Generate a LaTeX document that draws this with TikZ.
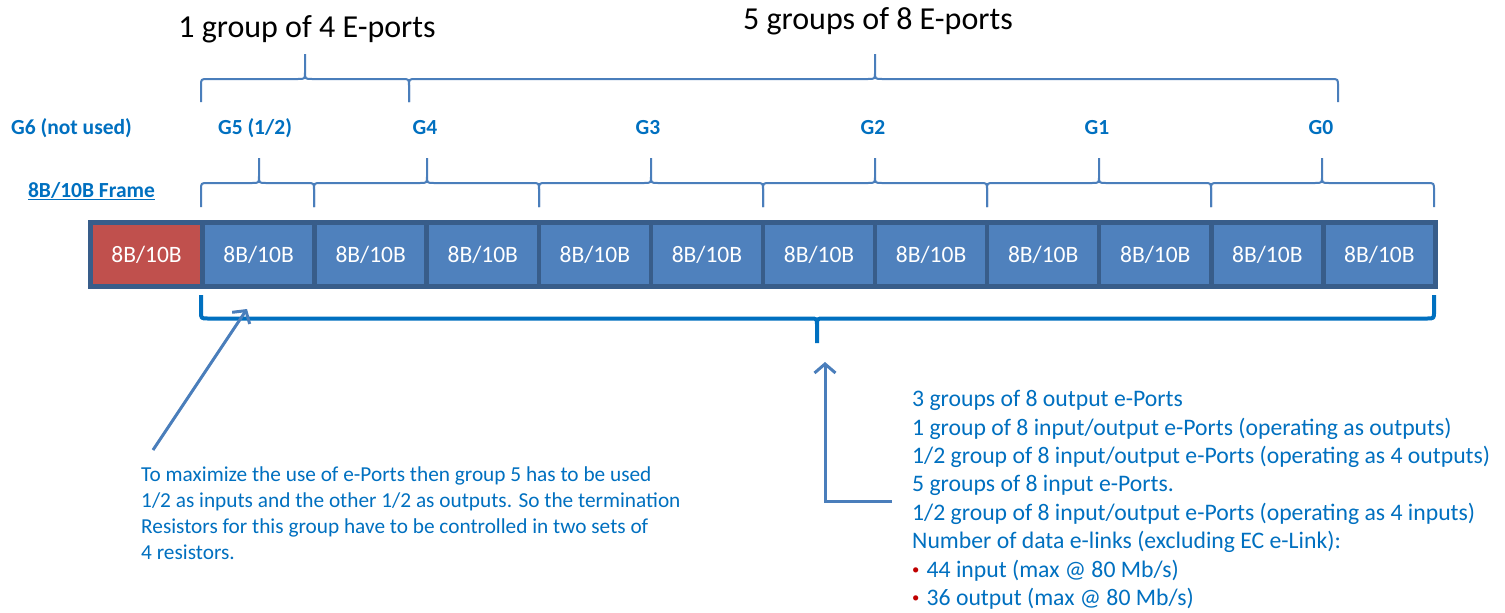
\documentclass[tikz,border=0pt]{standalone}
\usepackage{fontspec}
\usepackage{graphicx}
\setmainfont{Carlito}
\usetikzlibrary{arrows.meta}

\definecolor{cellblue}{HTML}{4F81BD}
\definecolor{cellred}{HTML}{C0504D}
\definecolor{cellline}{HTML}{385D8A}
\definecolor{textblue}{HTML}{0070C0}
\definecolor{bracecol}{HTML}{4A7EBB}
\definecolor{bulletred}{HTML}{C00000}

% Curly brace: #1 style, #2/#3 end x, #4 tip x, #5 end y, #6 bar y, #7 tip y, #8 signed corner size
\newcommand{\gbrace}[8]{%
  \draw[#1] (#2,#5) -- (#2,#6+#8) .. controls (#2,#6) .. (#2+7,#6)
    -- (#4-7,#6) .. controls (#4,#6) .. (#4,#6-#8) -- (#4,#7)
    (#4,#6-#8) .. controls (#4,#6) .. (#4+7,#6)
    -- (#3-7,#6) .. controls (#3,#6) .. (#3,#6+#8) -- (#3,#5);}

% small red list bullet
\newcommand{\redbullet}{{\color{bulletred}\raisebox{0.12em}{\scalebox{0.62}{\textbullet}}}\hspace{0.3em}}

\tikzset{
  cell/.style={draw=cellline, line width=4.5pt, minimum width=112.08pt,
    minimum height=64pt, inner sep=0pt, text=white,
    font=\fontsize{23.5}{28}\selectfont},
  thinbrace/.style={draw=bracecol, line width=2pt, line join=round},
  thickbrace/.style={draw=textblue, line width=4pt, line join=round},
  title/.style={anchor=base, inner sep=0pt, text=black,
    font=\fontsize{32}{38}\selectfont},
  glabel/.style={anchor=base, inner sep=0pt, text=textblue,
    font=\bfseries\fontsize{21.5}{26}\selectfont},
  % multi-line notes are placed by the baseline of their last line
  note/.style={anchor=base west, inner sep=0pt, align=left, text=textblue},
  callarrow/.style={draw=bracecol, line width=3pt,
    -{Straight Barb[length=9pt,width=21pt]}},
}

\begin{document}
\begin{tikzpicture}[x={(1pt,0pt)}, y={(0pt,-1pt)}]
\useasboundingbox[fill=white] (0,0) rectangle (1505,613);

% headings above the braces
\node[title] (t4) at (307,37) {1 group of 4 E-ports};
\node[title] (t8) at (878,29) {5 groups of 8 E-ports};

% upper braces
\gbrace{thinbrace}{201}{409}{305}{102}{79}{54}{7}
\gbrace{thinbrace}{409}{1338}{875}{102}{79}{54}{7}

% group labels
\node[glabel] (g6) at (71.5,134) {G6 (not used)};
\node[glabel] (g5) at (255,134) {G5 (1/2)};
\node[glabel] (g4) at (425,134) {G4};
\node[glabel] (g3) at (648,134) {G3};
\node[glabel] (g2) at (873,134) {G2};
\node[glabel] (g1) at (1097,134) {G1};
\node[glabel] (g0) at (1321,134) {G0};

\node[glabel] (frame) at (91.5,197) {\underline{8B/10B Frame}};

% lower braces
\gbrace{thinbrace}{201}{314}{259}{207}{183}{158}{7}
\gbrace{thinbrace}{314}{539}{427}{207}{183}{158}{7}
\gbrace{thinbrace}{539}{763}{651}{207}{183}{158}{7}
\gbrace{thinbrace}{763}{987}{875}{207}{183}{158}{7}
\gbrace{thinbrace}{987}{1211}{1099}{207}{183}{158}{7}
\gbrace{thinbrace}{1211}{1434}{1322}{207}{183}{158}{7}

% the frame cells
\node[cell, fill=cellred] (c0) at (146.54,254.5) {8B/10B};
\foreach \i in {1,...,11}
  \node[cell, fill=cellblue] (c\i) at ({90.5+112.08*(\i+0.5)},254.5) {8B/10B};

% brace under the used groups
\gbrace{thickbrace}{201}{1434}{817}{295}{318.5}{343}{-7}

% notes
\node[note, font=\fontsize{21.3}{25.8}\selectfont] (lnote) at (141,559.1)
  {To maximize the use of e-Ports then group 5 has to be used\\
   1/2 as inputs and the other 1/2 as outputs. So the termination\\
   Resistors for this group have to be controlled in two sets of\\
   4 resistors.};

\node[note, font=\fontsize{23.7}{28.4}\selectfont] (rnote) at (912,605.5)
  {3 groups of 8 output e-Ports\\
   1 group of 8 input/output e-Ports (operating as outputs)\\
   1/2 group of 8 input/output e-Ports (operating as 4 outputs)\\
   5 groups of 8 input e-Ports.\\
   1/2 group of 8 input/output e-Ports (operating as 4 inputs)\\
   Number of data e-links (excluding EC e-Link):\\
   \redbullet 44 input (max @ 80 Mb/s)\\
   \redbullet 36 output (max @ 80 Mb/s)};

% callout arrows
\coordinate (a1tail) at (153,450);
\coordinate (a1head) at (247,309);
\draw[callarrow] (a1tail) -- (a1head);

\coordinate (a2tail) at (892,501);
\coordinate (a2head) at (825,362);
\draw[callarrow] (a2tail) -| (a2head);
\end{tikzpicture}
\end{document}
